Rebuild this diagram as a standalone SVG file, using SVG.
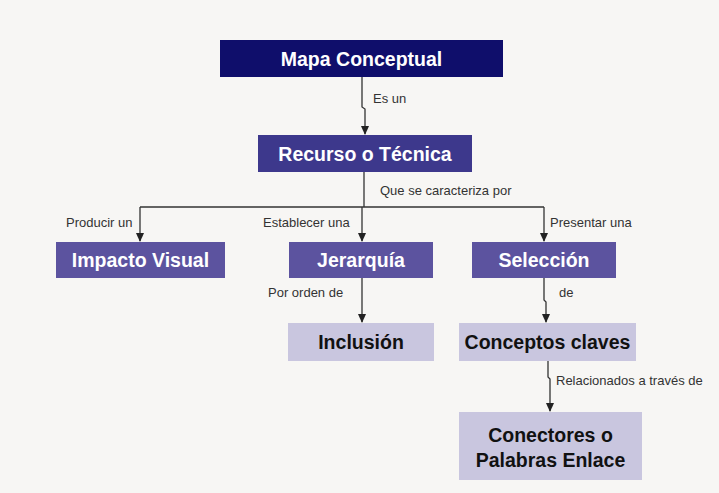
<svg xmlns="http://www.w3.org/2000/svg" width="719" height="493" viewBox="0 0 719 493">
<style>
.t{font-family:"Liberation Sans",Arial,sans-serif;font-weight:bold;font-size:19.5px;text-anchor:middle}
.w{fill:#ffffff}
.k{fill:#111111}
.l{font-family:"Liberation Sans",Arial,sans-serif;font-size:13px;fill:#333333}
.c{fill:none;stroke:#333333;stroke-width:1.3}
</style>
<defs>
<marker id="ah" markerWidth="8" markerHeight="8" refX="4" refY="7" orient="auto" markerUnits="userSpaceOnUse" viewBox="0 0 8 8">
<path d="M0,0 L8,0 L4,8 Z" fill="#222222" transform="rotate(-90 4 4)"/>
</marker>
<marker id="a" markerWidth="9" markerHeight="9" refX="8" refY="4.5" orient="auto" markerUnits="userSpaceOnUse">
<path d="M0,0.5 L9,4.5 L0,8.5 Z" fill="#222222"/>
</marker>
</defs>
<rect width="719" height="493" fill="#f7f6f4"/>
<g id="connectors">
<path class="c" d="M362,77 V107 L365,109 V134" marker-end="url(#a)"/>
<path class="c" d="M364,172 V207"/>
<path class="c" d="M140,207 H544"/>
<path class="c" d="M140,207 V241" marker-end="url(#a)"/>
<path class="c" d="M362,207 V241" marker-end="url(#a)"/>
<path class="c" d="M544,207 V241" marker-end="url(#a)"/>
<path class="c" d="M362,278 V322" marker-end="url(#a)"/>
<path class="c" d="M544,278 V300 L546,302 V322" marker-end="url(#a)"/>
<path class="c" d="M548,361 V377 L550,379 V411" marker-end="url(#a)"/>
<text class="l" x="373" y="103">Es un</text>
<text class="l" x="380" y="195">Que se caracteriza por</text>
<text class="l" x="66" y="227">Producir un</text>
<text class="l" x="263" y="227">Establecer una</text>
<text class="l" x="550" y="227">Presentar una</text>
<text class="l" x="268" y="297">Por orden de</text>
<text class="l" x="559" y="297">de</text>
<text class="l" x="556" y="385">Relacionados a través de</text>
</g>
<g id="mapa">
<rect x="220" y="40" width="283" height="37" fill="#0f0e6b"/>
<text class="t w" x="361.5" y="66">Mapa Conceptual</text>
</g>
<g id="recurso">
<rect x="258" y="135" width="214" height="37" fill="#3d388c"/>
<text class="t w" x="365" y="161">Recurso o Técnica</text>
</g>
<g id="impacto">
<rect x="56" y="242" width="169" height="36" fill="#5c539f"/>
<text class="t w" x="140.5" y="267">Impacto Visual</text>
</g>
<g id="jerarquia">
<rect x="289" y="242" width="144" height="36" fill="#5c539f"/>
<text class="t w" x="361" y="267">Jerarquía</text>
</g>
<g id="seleccion">
<rect x="472" y="242" width="144" height="36" fill="#5c539f"/>
<text class="t w" x="544" y="267">Selección</text>
</g>
<g id="inclusion">
<rect x="288" y="323" width="146" height="38" fill="#c9c6df"/>
<text class="t k" x="361" y="349">Inclusión</text>
</g>
<g id="conceptos">
<rect x="459" y="323" width="177" height="38" fill="#c9c6df"/>
<text class="t k" x="547.5" y="349">Conceptos claves</text>
</g>
<g id="conectores">
<rect x="459" y="412" width="183" height="68" fill="#c9c6df"/>
<text class="t k" x="550.5" y="442">Conectores o</text>
<text class="t k" x="550.5" y="467">Palabras Enlace</text>
</g>
</svg>
